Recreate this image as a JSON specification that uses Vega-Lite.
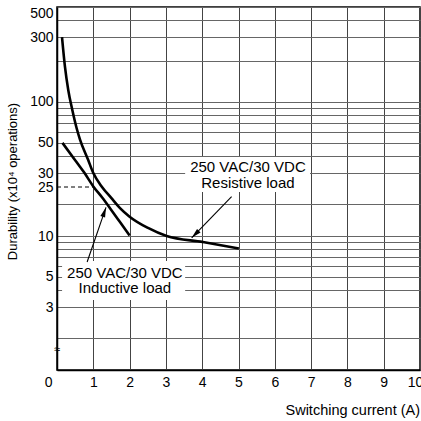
{
  "$schema": "https://vega.github.io/schema/vega-lite/v6.json",
  "width": 363,
  "height": 363,
  "autosize": {"type": "none"},
  "padding": {"left": 57, "top": 7, "right": 1, "bottom": 51},
  "background": "white",
  "config": {
    "font": "Liberation Sans",
    "view": {"stroke": "black", "strokeWidth": 1.5},
    "axis": {"labelColor": "black", "titleColor": "black", "domainColor": "black", "domainWidth": 1.5, "ticks": false}
  },
  "datasets": {
    "curves": [
      {"series": "Resistive", "x": 0.138, "y": 300},
      {"series": "Resistive", "x": 0.22, "y": 181},
      {"series": "Resistive", "x": 0.311, "y": 122},
      {"series": "Resistive", "x": 0.413, "y": 89.5},
      {"series": "Resistive", "x": 0.543, "y": 63.8},
      {"series": "Resistive", "x": 0.634, "y": 52.9},
      {"series": "Resistive", "x": 0.854, "y": 37.7},
      {"series": "Resistive", "x": 1.0, "y": 30},
      {"series": "Resistive", "x": 1.24, "y": 25},
      {"series": "Resistive", "x": 1.5, "y": 21.6},
      {"series": "Resistive", "x": 1.736, "y": 18.3},
      {"series": "Resistive", "x": 2.0, "y": 15.2},
      {"series": "Resistive", "x": 2.507, "y": 11.9},
      {"series": "Resistive", "x": 3.02, "y": 10},
      {"series": "Resistive", "x": 4.02, "y": 9.03},
      {"series": "Resistive", "x": 5.01, "y": 8.09},
      {"series": "Inductive", "x": 0.15, "y": 50},
      {"series": "Inductive", "x": 0.5, "y": 37.3},
      {"series": "Inductive", "x": 0.75, "y": 30.2},
      {"series": "Inductive", "x": 1.0, "y": 25.2},
      {"series": "Inductive", "x": 1.25, "y": 21.7},
      {"series": "Inductive", "x": 1.5, "y": 17.5},
      {"series": "Inductive", "x": 1.75, "y": 13.3},
      {"series": "Inductive", "x": 2.0, "y": 10.1}
    ],
    "boxes": [
      {"x": 3.53, "x2": 6.97, "y": 23.4, "y2": 39.3},
      {"x": 0.14, "x2": 3.53, "y": 3.38, "y2": 6.55}
    ],
    "dashed": [
      {"x": 0, "y": 25},
      {"x": 1, "y": 25}
    ],
    "shafts": [
      {"arrow": "R", "x": 4.81, "y": 22.0},
      {"arrow": "R", "x": 3.71, "y": 9.7},
      {"arrow": "I", "x": 0.83, "y": 6.43},
      {"arrow": "I", "x": 1.35, "y": 18.6}
    ],
    "heads": [
      {"x": 3.71, "y": 9.7, "angle": 225.5},
      {"x": 1.35, "y": 18.6, "angle": 19.2}
    ],
    "labels": [
      {"x": 5.26, "y": 33.2, "text": "250 VAC/30 VDC"},
      {"x": 5.26, "y": 26.3, "text": "Resistive load"},
      {"x": 1.87, "y": 5.34, "text": "250 VAC/30 VDC"},
      {"x": 1.87, "y": 4.14, "text": "Inductive load"}
    ],
    "brk": [
      {"x": 0, "y": 1.55, "text": "≈"}
    ]
  },
  "encoding": {
    "x": {
      "field": "x", "type": "quantitative",
      "scale": {"domain": [0, 10], "nice": false, "zero": false},
      "axis": {
        "values": [0, 1, 2, 3, 4, 5, 6, 7, 8, 9, 10],
        "grid": true, "gridColor": "#444", "gridWidth": 1,
        "labelFontSize": 14, "labelPadding": 5,
        "labelAlign": {"condition": {"test": "datum.value == 0", "value": "right"}, "value": "center"},
        "labelOffset": {"condition": [{"test": "datum.value == 0", "value": -5}, {"test": "datum.value == 10", "value": -5}], "value": 0},
        "labelBound": false, "labelOverlap": false,
        "title": "Switching current (A)",
        "titleFontSize": 14.5, "titleFontWeight": "normal",
        "titleAlign": "left", "titleBaseline": "middle",
        "titleX": 228, "titleY": 40
      }
    },
    "y": {
      "field": "y", "type": "quantitative",
      "scale": {"type": "log", "domain": [1, 2, 3, 10, 20, 25, 30, 500], "range": [363, 331, 300, 229, 197, 180, 166, 0], "nice": false},
      "axis": {
        "values": [1, 2, 3, 4, 5, 6, 7, 8, 9, 10, 20, 25, 30, 40, 50, 60, 70, 80, 90, 100, 200, 300, 400, 500],
        "format": "d",
        "labelExpr": "indexof([500,300,100,50,30,25,10,5,3], datum.value) >= 0 ? datum.label : ''",
        "grid": true, "gridColor": "#666", "gridWidth": 1,
        "gridOpacity": {"condition": {"test": "datum.value == 25 || datum.value == 1", "value": 0}, "value": 1},
        "labelFontSize": 14, "labelPadding": 4, "labelOverlap": false, "labelBound": false,
        "labelOffset": {"condition": {"test": "datum.value == 500", "value": 6}, "value": 0},
        "title": "Durability (x10⁴ operations)",
        "titleFontSize": 13, "titleFontWeight": "normal",
        "titleAlign": "center", "titleBaseline": "middle", "titleAngle": -90,
        "titleX": -45, "titleY": 174
      }
    }
  },
  "layer": [
    {
      "data": {"name": "boxes"},
      "mark": {"type": "rect", "fill": "white", "stroke": null},
      "encoding": {"x2": {"field": "x2"}, "y2": {"field": "y2"}}
    },
    {
      "data": {"name": "dashed"},
      "mark": {"type": "line", "color": "black", "strokeWidth": 1, "strokeDash": [4, 3]},
      "encoding": {}
    },
    {
      "data": {"name": "curves"},
      "mark": {"type": "line", "color": "black", "strokeWidth": 2.6, "interpolate": "monotone"},
      "encoding": {"detail": {"field": "series"}}
    },
    {
      "data": {"name": "shafts"},
      "mark": {"type": "line", "color": "black", "strokeWidth": 1.1},
      "encoding": {"detail": {"field": "arrow"}}
    },
    {
      "data": {"name": "heads"},
      "mark": {"type": "point", "shape": "M0,0L0.25,1L-0.25,1Z", "filled": true, "color": "black", "opacity": 1, "size": 400, "strokeWidth": 0},
      "encoding": {"angle": {"field": "angle", "type": "quantitative", "scale": null}}
    },
    {
      "data": {"name": "labels"},
      "mark": {"type": "text", "fontSize": 15, "color": "black", "align": "center", "baseline": "middle"},
      "encoding": {"text": {"field": "text"}}
    },
    {
      "data": {"name": "brk"},
      "mark": {"type": "text", "fontSize": 11, "color": "black", "align": "center", "baseline": "middle"},
      "encoding": {"text": {"field": "text"}}
    }
  ]
}
